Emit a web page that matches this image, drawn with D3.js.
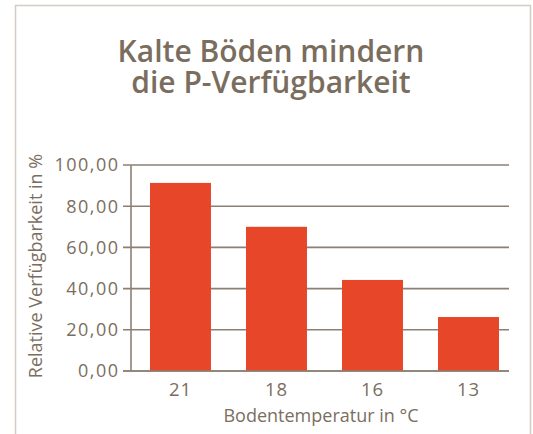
<!DOCTYPE html>
<html>
<head>
<meta charset="utf-8">
<script src="https://cdn.jsdelivr.net/npm/d3@7"></script>
<style>
  body { margin: 0; background: #fff; }
  text { font-family: "Open Sans", "DejaVu Sans", sans-serif; fill: #7b6e60; }
</style>
</head>
<body>
<div id="chart"></div>
<script>
// data
const temps = ["21", "18", "16", "13"];
const availability = [91.3, 70.0, 44.2, 26.2];
const yTicks = [0, 20, 40, 60, 80, 100];
const titleLines = ["Kalte Böden mindern", "die P-Verfügbarkeit"];

const width = 533, height = 434;
const plotLeft = 131, plotRight = 509, plotTop = 165, plotBottom = 371;
const axisColor = "#8b8073";

const svg = d3.select("#chart").append("svg")
    .attr("width", width)
    .attr("height", height);

// frame
svg.append("path")
    .attr("d", `M15.5,${height}V5.5H530.5V${height}`)
    .attr("fill", "none")
    .attr("stroke", "#d3ccc4")
    .attr("stroke-width", 1.5);

// title, two lines in one text
svg.append("text")
    .attr("text-anchor", "middle")
    .attr("font-size", 30)
    .attr("font-weight", 600)
    .style("fill", "#7b6d5d")
    .selectAll("tspan")
    .data(titleLines)
    .join("tspan")
    .attr("x", 271)
    .attr("y", (d, i) => 62 + i * 31)
    .text(d => d);

const y = d3.scaleLinear()
    .domain([0, 100])
    .range([plotBottom, plotTop]);

const x = d3.scaleBand()
    .domain(temps)
    .range([plotLeft, 518])
    .paddingInner(0.365)
    .paddingOuter(0.198);

// gridlines
svg.append("g").selectAll("line")
    .data(yTicks)
    .join("line")
    .attr("x1", plotLeft - 8)
    .attr("x2", plotRight)
    .attr("y1", d => y(d))
    .attr("y2", d => y(d))
    .attr("stroke", axisColor)
    .attr("stroke-width", 1.6);

// bars
svg.append("g").selectAll("rect")
    .data(temps)
    .join("rect")
    .attr("x", d => x(d))
    .attr("width", x.bandwidth())
    .attr("y", (d, i) => y(availability[i]))
    .attr("height", (d, i) => y(0) - y(availability[i]))
    .attr("fill", "#e74628");

// bottom line drawn again over bars
svg.append("line")
    .attr("x1", plotLeft - 8).attr("x2", plotRight)
    .attr("y1", y(0)).attr("y2", y(0))
    .attr("stroke", axisColor).attr("stroke-width", 1.6);

// y axis line
svg.append("line")
    .attr("x1", plotLeft).attr("x2", plotLeft)
    .attr("y1", y(100)).attr("y2", y(0))
    .attr("stroke", axisColor).attr("stroke-width", 1.6);

// y tick labels
svg.append("g").selectAll("text")
    .data(yTicks)
    .join("text")
    .attr("x", 118 + 1.5)
    .attr("y", d => y(d))
    .attr("dy", "0.36em")
    .attr("text-anchor", "end")
    .attr("font-size", 18)
    .attr("letter-spacing", 1.5)
    .text(d => d3.format(".2f")(d).replace(".", ","));

// x tick labels
svg.append("g").selectAll("text")
    .data(temps)
    .join("text")
    .attr("x", d => x(d) + x.bandwidth() / 2)
    .attr("y", 396)
    .attr("text-anchor", "middle")
    .attr("font-size", 18.5)
    .attr("letter-spacing", 1)
    .text(d => d);

// axis titles
svg.append("text")
    .attr("x", 321)
    .attr("y", 422)
    .attr("text-anchor", "middle")
    .attr("font-size", 18)
    .text("Bodentemperatur in °C");

svg.append("text")
    .attr("transform", "translate(42,266) rotate(-90)")
    .attr("text-anchor", "middle")
    .attr("font-size", 18)
    .text("Relative Verfügbarkeit in %");
</script>
</body>
</html>
